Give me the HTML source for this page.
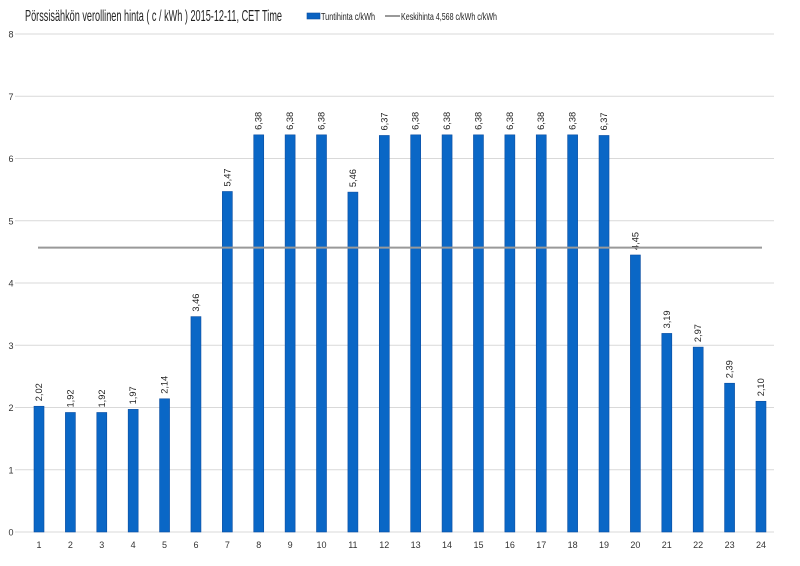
<!DOCTYPE html>
<html><head><meta charset="utf-8"><style>
body{margin:0;background:#fff;}
svg{display:block;font-family:"Liberation Sans",sans-serif;}
</style></head><body>
<svg id="c" width="800" height="566" xmlns="http://www.w3.org/2000/svg">
<rect width="800" height="566" fill="#fff"/>
<text x="25" y="21" font-size="16" fill="#222" textLength="257" lengthAdjust="spacingAndGlyphs">Pörssisähkön verollinen hinta ( c / kWh ) 2015-12-11, CET Time</text>
<rect x="307" y="13" width="13" height="6" fill="#0a62c1" stroke="#0b4da0" stroke-width="0.6"/>
<text x="321" y="20" font-size="10.5" fill="#222" textLength="54" lengthAdjust="spacingAndGlyphs">Tuntihinta c/kWh</text>
<line x1="385" y1="16" x2="400" y2="16" stroke="#999" stroke-width="2"/>
<text x="401" y="20" font-size="10.5" fill="#222" textLength="96" lengthAdjust="spacingAndGlyphs">Keskihinta 4,568 c/kWh c/kWh</text>
</svg>
<script>
var s=document.getElementById('c'),h='';
var v=[2.02,1.92,1.92,1.97,2.14,3.46,5.47,6.38,6.38,6.38,5.46,6.37,6.38,6.38,6.38,6.38,6.38,6.38,6.37,4.45,3.19,2.97,2.39,2.10];
function Y(x){return 532-x*62.25;}
for(var i=0;i<=8;i++){var y=Y(i);h+='<line x1="15" x2="774" y1="'+y+'" y2="'+y+'" stroke="#d9d9d9" stroke-width="1"/><text x="11" y="'+(y+3.5)+'" font-size="9" text-anchor="middle" fill="#333">'+i+'</text>';}
for(var i=0;i<24;i++){var cx=39+i*31.39,y=Y(v[i]);
h+='<rect x="'+(cx-5)+'" y="'+y+'" width="10" height="'+(532-y)+'" fill="#0a67c6" stroke="#0b4da0" stroke-width="0.6"/>';
h+='<text x="'+(cx+3)+'" y="'+(y-5)+'" font-size="9" fill="#222" textLength="18" lengthAdjust="spacingAndGlyphs" transform="rotate(-90 '+(cx+3)+' '+(y-5)+')">'+v[i].toFixed(2).replace('.',',')+'</text>';
h+='<text x="'+cx+'" y="548" font-size="9" text-anchor="middle" fill="#333">'+(i+1)+'</text>';}
h+='<line x1="38" x2="762" y1="'+Y(4.568)+'" y2="'+Y(4.568)+'" stroke="#999" stroke-width="2"/>';
s.insertAdjacentHTML('beforeend',h);
</script>
</body></html>
